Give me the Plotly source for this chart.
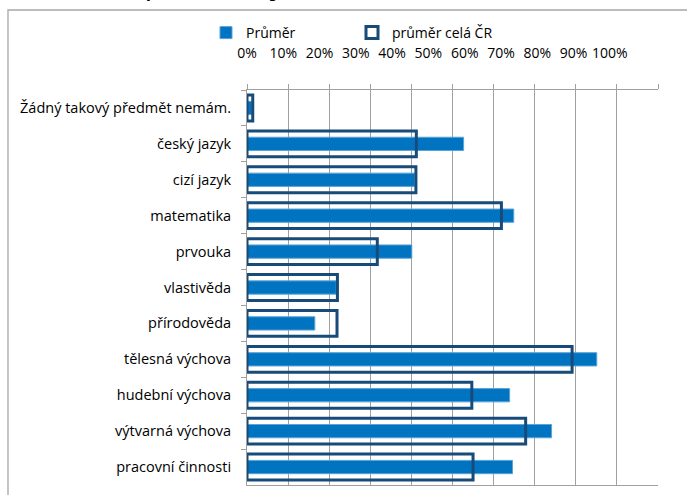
import plotly.graph_objects as go

categories = ["Žádný takový předmět nemám.", "český jazyk", "cizí jazyk", "matematika",
              "prvouka", "vlastivěda", "přírodověda", "tělesná výchova",
              "hudební výchova", "výtvarná výchova", "pracovní činnosti"]
prumer = [1.2, 52.7, 40.8, 64.9, 40.1, 21.7, 16.5, 85.1, 63.9, 74.1, 64.6]
prumer_cr = [1.4, 41.2, 41.1, 61.9, 31.7, 22.0, 21.9, 79.1, 54.7, 67.8, 55.0]
tick_vals = [0, 10, 20, 30, 40, 50, 60, 70, 80, 90, 100]
tick_text = [f"{v}%" for v in tick_vals]

FONT = "Open Sans"
W, H = 687, 495
ML, MR, MT, MB = 247, 29, 50, 10
plot_h = H - MT - MB
ydom_top = (485 - 90) / plot_h

fig = go.Figure()
fig.add_trace(go.Bar(
    y=categories, x=prumer, orientation="h", name="Průměr",
    width=0.37,
    marker=dict(color="#0074C0", line=dict(color="#5AA3D8", width=1)),
))
fig.add_trace(go.Bar(
    y=categories, x=prumer_cr, orientation="h", name="průměr celá ČR",
    width=0.72,
    marker=dict(color="rgba(0,0,0,0)", line=dict(color="#174B7A", width=3)),
))
# helper trace for the separately scaled label axis
fig.add_trace(go.Scatter(x=[None], y=[None], xaxis="x2", yaxis="y",
                         showlegend=False, hoverinfo="skip"))

fig.update_layout(
    width=W, height=H,
    margin=dict(l=ML, r=MR, t=MT, b=MB, autoexpand=False),
    paper_bgcolor="white", plot_bgcolor="rgba(0,0,0,0)",
    barmode="overlay",
    font=dict(family=FONT, size=14, color="#000000"),
    showlegend=True,
    legend=dict(orientation="h", x=(206 - ML) / 411, xanchor="left",
                y=(485 - 33) / plot_h, yanchor="middle",
                entrywidth=101, itemwidth=30, font=dict(size=14, family=FONT),
                bgcolor="rgba(0,0,0,0)"),
    xaxis=dict(range=[0, 100], side="top", showticklabels=False,
               showgrid=True, gridcolor="#A0A0A0", gridwidth=1,
               tickvals=tick_vals, ticks="outside", ticklen=5, tickcolor="#A0A0A0",
               showline=True, linecolor="#A0A0A0", linewidth=1, mirror=True,
               zeroline=False, domain=[0, 1], automargin=False),
    xaxis2=dict(range=[0, 100], domain=[0, (609.5 - 246.7) / 411],
                anchor="free", position=(485 - 61) / plot_h, side="top",
                tickvals=tick_vals, ticktext=tick_text, showgrid=False,
                showline=False, ticks="", zeroline=False, automargin=False,
                tickfont=dict(size=14, family=FONT, color="#000000")),
    yaxis=dict(type="category", autorange="reversed", domain=[0, ydom_top],
               tickson="boundaries", ticks="outside", ticklen=5, tickcolor="#A0A0A0",
               showgrid=False, showline=True, linecolor="#A0A0A0", linewidth=1,
               ticklabelstandoff=12, zeroline=False, automargin=False,
               tickfont=dict(size=14.5, family=FONT, color="#000000")),
)

# chart frame (cropped on the right and bottom)
fig.add_shape(type="rect", xref="paper", yref="paper",
              x0=(8 - ML) / 411, x1=(720 - ML) / 411,
              y0=(485 - 520) / plot_h, y1=(485 - 10) / plot_h,
              line=dict(color="#A6A6A6", width=1.3), fillcolor="rgba(0,0,0,0)", layer="below")

# chart title (mostly cut off at the top of the picture)
fig.add_annotation(text="Oblíbené předměty", xref="paper", yref="paper",
                   x=(288 - ML) / 411, xanchor="right",
                   y=(485 - 5) / plot_h, yanchor="bottom", showarrow=False,
                   font=dict(size=31, family=FONT, color="#000000"))

fig.write_html("out.html", config={"displayModeBar": False},
               post_script="document.body.style.margin='0';")
